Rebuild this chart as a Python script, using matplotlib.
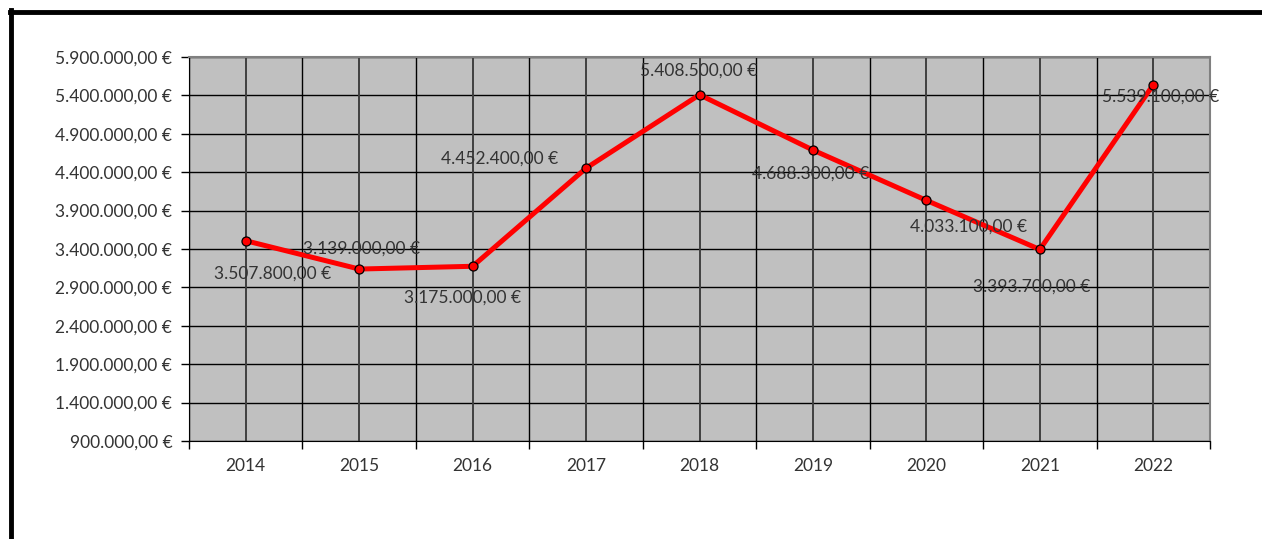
import matplotlib.pyplot as plt
from matplotlib.lines import Line2D
from matplotlib.ticker import FuncFormatter

# data
years = ['2014', '2015', '2016', '2017', '2018', '2019', '2020', '2021', '2022']
values = [3507800, 3139000, 3175000, 4452400, 5408500, 4688300, 4033100, 3393700, 5539100]
y_ticks = [900000, 1400000, 1900000, 2400000, 2900000, 3400000,
           3900000, 4400000, 4900000, 5400000, 5900000]
# label offsets in pixels (dx, dy) relative to each point
label_offsets = [(27, -33), (2, 20), (-10, -31), (-86, 10), (-1, 24),
                 (-2, -24), (42, -26), (-8, -37), (7, -12)]

plt.rcParams['font.family'] = ['Lato', 'DejaVu Sans']


def euro(v, pos=None):
    s = f'{v:,.2f}'
    s = s.replace(',', 'X').replace('.', ',').replace('X', '.')
    return s + ' €'


fig = plt.figure(figsize=(12.62, 5.39), dpi=100)
ax = fig.add_axes([189 / 1262, 1 - 441 / 539, 1021 / 1262, 384 / 539])
ax.set_facecolor('#c0c0c0')

x = list(range(len(years)))
ax.plot(x, values, color='#ff0000', lw=3.6, marker='o', ms=6.5,
        mfc='#ff0000', mec='black', mew=0.9, zorder=3)

for xi, v, (dx, dy) in zip(x, values, label_offsets):
    ax.annotate(euro(v), (xi, v), xytext=(dx * 0.72, dy * 0.72), textcoords='offset points',
                ha='center', va='center', fontsize=12.5, color='#333333', zorder=4)

ax.set_xlim(-0.5, len(years) - 0.5)
ax.set_ylim(y_ticks[0], y_ticks[-1])
ax.set_yticks(y_ticks)
ax.yaxis.set_major_formatter(FuncFormatter(euro))

# grid
for yv in y_ticks:
    ax.axhline(yv, color='black', lw=1, zorder=1)
for xi in x:
    ax.axvline(xi, color='#404040', lw=1.4, zorder=1)
for xi in range(len(years) + 1):
    ax.axvline(xi - 0.5, color='black', lw=1, zorder=1)

ax.set_xticks([i - 0.5 for i in range(len(years) + 1)])
ax.set_xticklabels([])
ax.set_xticks(x, minor=True)
ax.set_xticklabels(years, minor=True)
ax.tick_params(axis='x', which='major', length=6, width=1, direction='out')
ax.tick_params(axis='x', which='minor', length=0, pad=12, labelsize=12.5, labelcolor='#333333')
ax.tick_params(axis='y', length=6, width=1, direction='out', labelsize=12.5, pad=6,
               labelcolor='#333333')

for side in ['top', 'right']:
    ax.spines[side].set_color('#808080')
    ax.spines[side].set_linewidth(1.5)
ax.spines['bottom'].set_color('black')
ax.spines['left'].set_color('black')

# outer frame (top and left)
fig.add_artist(Line2D([10 / 1262, 1], [1 - 12 / 539, 1 - 12 / 539], color='black', lw=3.5))
fig.add_artist(Line2D([10.5 / 1262, 10.5 / 1262], [0, 1 - 10 / 539], color='black', lw=3.5))

fig.savefig('out.png', dpi=100)
